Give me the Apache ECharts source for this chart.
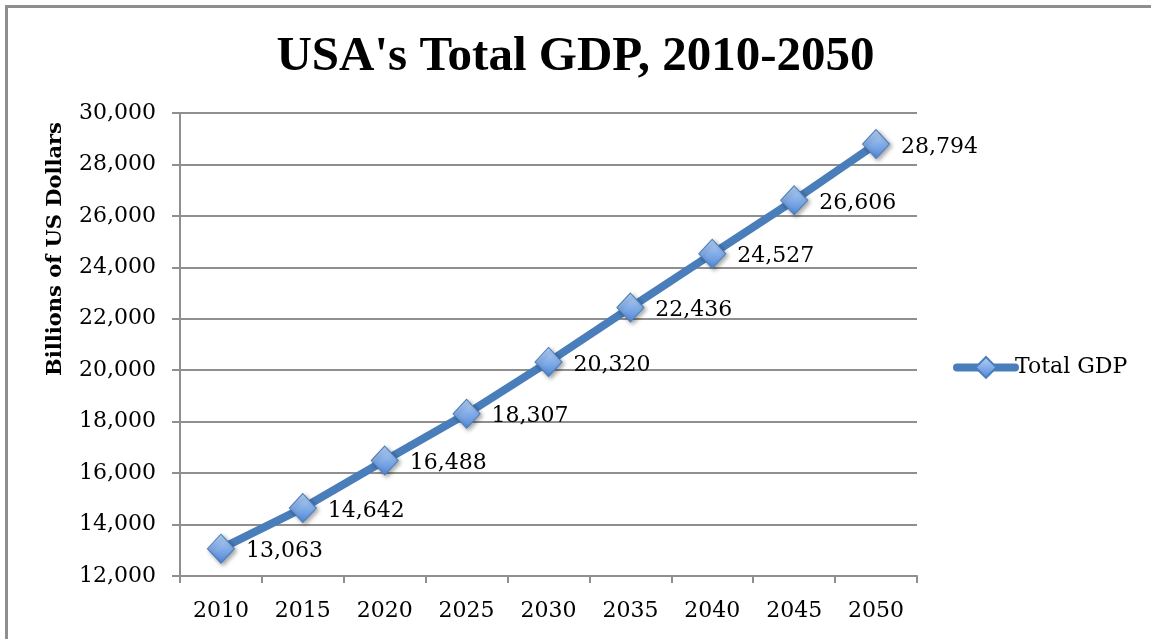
<!DOCTYPE html>
<html>
<head>
<meta charset="utf-8">
<script src="https://cdn.jsdelivr.net/npm/echarts@6/dist/echarts.min.js"></script>
<style>
html,body{margin:0;padding:0;background:#fff;}
#chart{width:1151px;height:639px;}
</style>
</head>
<body>
<div id="chart"></div>
<script>
const years = ['2010','2015','2020','2025','2030','2035','2040','2045','2050'];
const gdp = [13063, 14642, 16488, 18307, 20320, 22436, 24527, 26606, 28794];
const seriesName = 'Total GDP';
const titleText = "USA's Total GDP, 2010-2050";
const yAxisTitle = 'Billions of US Dollars';

const serif = 'DejaVu Serif';
const gridColor = '#8f8f8f';

const chart = echarts.init(document.getElementById('chart'));
chart.setOption({
  backgroundColor: '#ffffff',
  animation: false,
  title: {
    text: titleText,
    left: 'center',
    top: 28,
    padding: [5, 5, 5, 13],
    textStyle: { fontFamily: 'Liberation Serif', fontWeight: 'bold', fontSize: 49, color: '#000' }
  },
  graphic: [
    { type: 'rect', left: 4, top: 4, shape: { width: 1300, height: 800 },
      style: { fill: 'none', stroke: '#8e8e8e', lineWidth: 3 }, silent: true },
    { type: 'text', x: 56, y: 249, rotation: Math.PI / 2,
      style: { text: yAxisTitle, fontFamily: serif, fontWeight: 'bold', fontSize: 21,
               fill: '#000', textAlign: 'center', textVerticalAlign: 'middle' } }
  ],
  legend: {
    data: [seriesName],
    left: 948,
    top: 351,
    itemWidth: 58,
    itemHeight: 26,
    itemGap: 10,
    lineStyle: { width: 8, color: '#4a7ebb', cap: 'round' },
    textStyle: { fontFamily: serif, fontSize: 22, color: '#000', padding: [0, 0, 0, -5] }
  },
  grid: { left: 180, right: 234, top: 113, bottom: 63, containLabel: false },
  xAxis: {
    type: 'category',
    data: years,
    boundaryGap: true,
    axisLine: { lineStyle: { color: gridColor, width: 2 } },
    axisTick: { show: true, length: 7, lineStyle: { color: gridColor, width: 2 } },
    axisLabel: { fontFamily: serif, fontSize: 22, color: '#000', margin: 24 },
    splitLine: { show: false }
  },
  yAxis: {
    type: 'value',
    min: 12000,
    max: 30000,
    interval: 2000,
    axisLine: { show: true, lineStyle: { color: gridColor, width: 2 } },
    axisTick: { show: true, length: 8, lineStyle: { color: gridColor, width: 2 } },
    axisLabel: {
      fontFamily: serif, fontSize: 22, color: '#000', margin: 24,
      formatter: v => v.toLocaleString('en-US')
    },
    splitLine: { show: true, lineStyle: { color: gridColor, width: 2 } }
  },
  series: [{
    name: seriesName,
    type: 'line',
    data: gdp,
    symbol: 'diamond',
    symbolSize: [27, 29],
    lineStyle: { color: '#4a7ebb', width: 8 },
    itemStyle: {
      color: new echarts.graphic.LinearGradient(0, 0, 0, 1, [
        { offset: 0, color: '#b9d4f8' },
        { offset: 1, color: '#4f87d8' }
      ]),
      borderColor: '#4a7ebb',
      borderWidth: 1,
      shadowColor: 'rgba(0,0,0,0.35)',
      shadowBlur: 4,
      shadowOffsetX: 2,
      shadowOffsetY: 2
    },
    label: {
      show: true,
      position: 'right',
      distance: 11,
      offset: [0, 3],
      fontFamily: serif,
      fontSize: 22,
      color: '#000',
      formatter: p => p.value.toLocaleString('en-US')
    }
  }]
});
</script>
</body>
</html>
